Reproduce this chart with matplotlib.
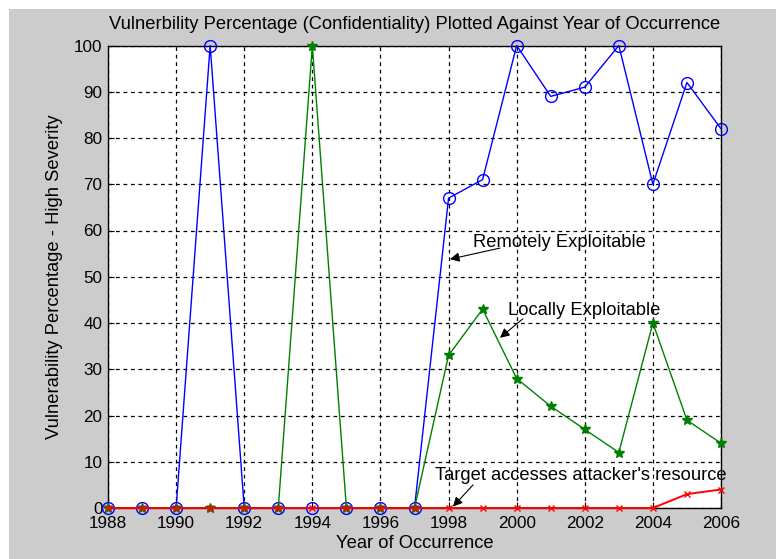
import matplotlib
matplotlib.use("Agg")
import matplotlib.pyplot as plt
from matplotlib.patches import Rectangle

years = list(range(1988, 2007))
remote = [0, 0, 0, 100, 0, 0, 0, 0, 0, 0, 67, 71, 100, 89, 91, 100, 70, 92, 82]
local = [0, 0, 0, 0, 0, 0, 100, 0, 0, 0, 33, 43, 28, 22, 17, 12, 40, 19, 14]
target = [0, 0, 0, 0, 0, 0, 0, 0, 0, 0, 0, 0, 0, 0, 0, 0, 0, 3, 4]
xticks = list(range(1988, 2007, 2))
yticks = list(range(0, 101, 10))

title = "Vulnerbility Percentage (Confidentiality) Plotted Against Year of Occurrence"
xlabel = "Year of Occurrence"
ylabel = "Vulnerability Percentage - High Severity"

plt.rcParams['font.family'] = ['Liberation Sans', 'DejaVu Sans']
fs_tick = 12.3
fs = 13.2

fig = plt.figure(figsize=(7.76, 5.59), dpi=100, facecolor='white')
fig.patches.append(Rectangle((9/776, 0), 1 - 9/776, 1 - 9/559, transform=fig.transFigure,
                             facecolor='#cccccc', edgecolor='none', zorder=-10))

W, H = 776, 559
left, right, top, bottom = 108, 721, 45.5, 508
ax = fig.add_axes([left / W, 1 - bottom / H, (right - left) / W, (bottom - top) / H])
ax.set_facecolor('white')

ax.plot(years, remote, color='#0000ff', marker='o', markersize=8.5, markerfacecolor='none',
        markeredgecolor='#0000ff', lw=1, clip_on=False, zorder=3)
ax.plot(years, local, color='#008000', marker='*', markersize=7, lw=1, clip_on=False, zorder=4)
ax.plot(years, target, color='#ff0000', marker='x', markersize=5, lw=1.4, clip_on=False, zorder=5)

ax.set_xlim(1988, 2006)
ax.set_ylim(0, 100)
ax.set_xticks(xticks)
ax.set_yticks(yticks)
ax.tick_params(direction='in', length=4, width=0.8, labelsize=fs_tick, colors='black')
ax.tick_params(axis='x', pad=6)
ax.tick_params(axis='y', pad=4)
ax.grid(True, color='black', linestyle=(0, (3, 3)), linewidth=0.9)
for s in ax.spines.values():
    s.set_color('black')
    s.set_linewidth(1)

ax.set_title(title, fontsize=fs, pad=12)
ax.set_xlabel(xlabel, fontsize=fs, labelpad=3)
ax.set_ylabel(ylabel, fontsize=fs, labelpad=8)

ap = dict(arrowstyle='-|>', color='black', lw=0.8, mutation_scale=14, shrinkA=0, shrinkB=0)
ax.annotate('', xy=(1998.04, 53.8), xytext=(1999.51, 56.2), arrowprops=ap, zorder=6)
ax.text(1998.72, 57.5, 'Remotely Exploitable', fontsize=fs, va='center', ha='left', zorder=6)
ax.annotate('', xy=(1999.51, 36.8), xytext=(2000.18, 40.9), arrowprops=ap, zorder=6)
ax.text(1999.74, 42.8, 'Locally Exploitable', fontsize=fs, va='center', ha='left', zorder=6)
ax.annotate('', xy=(1998.13, 0.3), xytext=(1998.72, 5.0), arrowprops=ap, zorder=6)
ax.text(1997.60, 7.1, "Target accesses attacker's resource", fontsize=fs, va='center', ha='left', zorder=6)

fig.savefig('out.png', dpi=100, facecolor=fig.get_facecolor())
